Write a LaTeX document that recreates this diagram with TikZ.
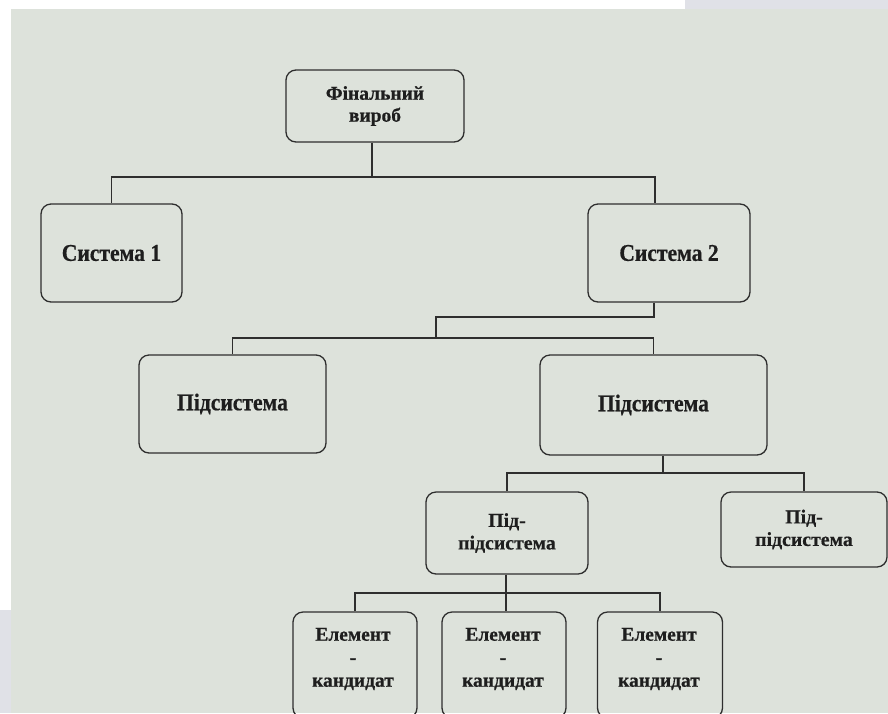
\documentclass[tikz,border=0pt]{standalone}
\usepackage{fontspec}
\setmainfont{Liberation Serif}
\newfontfamily\heavyserif[FakeBold=0.6]{Liberation Serif}
\newfontfamily\narrowserif[FakeStretch=0.9,FakeBold=0.6]{Liberation Serif}
\definecolor{bgmain}{HTML}{DDE2DB}
\definecolor{bgblue}{HTML}{E0E1E7}
\definecolor{edge}{HTML}{2E2E2E}
\definecolor{ink}{HTML}{1E1E1E}
\tikzset{
  box/.style={draw=edge, line width=1.3pt, rounded corners=10pt, rectangle, inner sep=0pt},
  big/.style={font=\narrowserif\bfseries\fontsize{24}{27}\selectfont, text=ink, align=center},
  mid/.style={font=\heavyserif\bfseries\fontsize{19.8}{22.5}\selectfont, text=ink, align=center},
  top/.style={font=\heavyserif\bfseries\fontsize{19.5}{22}\selectfont, text=ink, align=center},
  small/.style={font=\heavyserif\bfseries\fontsize{19.5}{23}\selectfont, text=ink, align=center},
  conn/.style={draw=edge, line width=1.3pt}
}
\begin{document}
\begin{tikzpicture}[x=1pt, y=-1pt]
\useasboundingbox (0,0) rectangle (888,713);
\clip (0,0) rectangle (888,713);
% background
\fill[bgmain] (0,0) rectangle (888,713);
\fill[white] (0,0) rectangle (685,9);
\fill[bgblue] (685,0) rectangle (888,9);
\fill[white] (0,0) rectangle (11,610);
\fill[bgblue] (0,610) rectangle (11,713);

% level 0
\node[box, top, minimum width=178pt, minimum height=72pt] (t) at (375,106) {Фінальний\\вироб};
% level 1
\node[box, big, minimum width=141pt, minimum height=98pt] (s1) at (111.5,253) {Система 1};
\node[box, big, minimum width=162pt, minimum height=98pt] (s2) at (669,253) {Система 2};
% level 2
\node[box, big, minimum width=187pt, minimum height=98pt] (p1) at (232.5,404) {Підсистема};
\node[box, big, minimum width=227pt, minimum height=100pt] (p2) at (653.5,405) {Підсистема};
% level 3
\node[box, mid, minimum width=162pt, minimum height=82pt] (q1) at (507,533) {Під-\\підсистема};
\node[box, mid, minimum width=166pt, minimum height=75pt] (q2) at (804,529.5) {Під-\\підсистема};
% level 4
\node[box, minimum width=124pt, minimum height=106pt] (e1) at (355,665) {};
\node[box, minimum width=124pt, minimum height=106pt] (e2) at (504,665) {};
\node[box, minimum width=125pt, minimum height=106pt] (e3) at (660,665) {};
\node[small] (e1t) at (353,659) {Елемент\\-\\кандидат};
\node[small] (e2t) at (503,659) {Елемент\\-\\кандидат};
\node[small] (e3t) at (659,659) {Елемент\\-\\кандидат};

% connectors
\coordinate (j0) at (372,177);
\coordinate (j2) at (655,177);
\draw[conn] (t.south -| j0) -- (j0);
\draw[conn] (s1.north) |- (j2) -- (j2 |- s2.north);

\coordinate (j3) at (654,317);
\coordinate (j4) at (436,317);
\coordinate (j5) at (436,338);
\draw[conn] (s2.south -| j3) -- (j3) -- (j4) -- (j5);
\draw[conn] (p1.north) |- (j5) -| (p2.north);

\coordinate (j6) at (663,473);
\draw[conn] (p2.south -| j6) -- (j6);
\draw[conn] (q1.north) |- (j6) -| (q2.north);

\coordinate (j7) at (506,593);
\draw[conn] (q1.south -| j7) -- (j7);
\draw[conn] (e1.north) |- (j7) -| (e3.north);
\draw[conn] (j7) -- (e2.north -| j7);
\end{tikzpicture}
\end{document}
